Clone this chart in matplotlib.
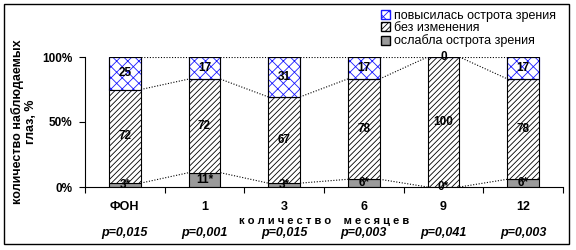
import numpy as np
import matplotlib.pyplot as plt
from matplotlib.patches import Patch, Rectangle

plt.rcParams['font.family'] = ['Liberation Sans', 'DejaVu Sans']
plt.rcParams['hatch.linewidth'] = 0.6

# данные
categories = ['ФОН', '1', '3', '6', '9', '12']
worse = [3, 11, 3, 6, 0, 6]          # ослабла острота зрения
same = [72, 72, 67, 78, 100, 78]     # без изменения
better = [25, 17, 31, 17, 0, 17]     # повысилась острота зрения
p_values = ['p=0,015', 'p=0,001', 'p=0,015', 'p=0,003', 'p=0,041', 'p=0,003']

w = np.array(worse, float)
s = np.array(same, float)
b = np.array(better, float)
tot = w + s + b
wp, sp, bp = w / tot * 100, s / tot * 100, b / tot * 100

W, H = 576, 250
fig = plt.figure(figsize=(5.76, 2.5), dpi=100)
ax = fig.add_axes([85/W, 1-187/H, (563-85)/W, (187-57)/H])

x = np.arange(len(categories))
bw = 0.4
ax.bar(x, wp, bw, color='#9a9a9a', edgecolor='black', linewidth=0.8)
ax.bar(x, sp, bw, bottom=wp, color='white', edgecolor='black', hatch='//////', linewidth=0.8)
ax.bar(x, bp, bw, bottom=wp + sp, color='white', edgecolor='#1a1aff', hatch='xxx', linewidth=0.8)
# черная рамка для верхнего сегмента
ax.bar(x, bp, bw, bottom=wp + sp, color='none', edgecolor='black', linewidth=0.8)

# линии ряда
for lvl in [wp, wp + sp, wp + sp + bp]:
    for i in range(len(x) - 1):
        ax.plot([x[i] + bw/2, x[i+1] - bw/2], [lvl[i], lvl[i+1]],
                ls=(0, (1, 1.5)), color='black', lw=0.8)

# подписи
for i in range(len(x)):
    ax.text(x[i], wp[i] / 2, f'{worse[i]}*', ha='center', va='center', fontsize=8.5, fontweight='bold')
    ax.text(x[i], wp[i] + sp[i] / 2, str(same[i]), ha='center', va='center', fontsize=8.5, fontweight='bold')
    ax.text(x[i], wp[i] + sp[i] + bp[i] / 2, str(better[i]), ha='center', va='center', fontsize=8.5, fontweight='bold')

ax.set_xlim(-0.5, len(x) - 0.5)
ax.set_ylim(0, 100)
ax.set_yticks([0, 50, 100])
ax.set_yticklabels(['0%', '50%', '100%'], fontsize=8.5, fontweight='bold')
ax.set_xticks(np.arange(-0.5, len(x) + 0.5, 1))
ax.set_xticklabels([])
ax.tick_params(axis='both', direction='out', length=4, width=0.8, pad=5)
ax.spines['top'].set_visible(False)
ax.spines['right'].set_visible(False)

for i, c in enumerate(categories):
    ax.text(x[i], -15, c, ha='center', va='center', fontsize=9, fontweight='bold')
    ax.text(x[i], -35.5, p_values[i], ha='center', va='center', fontsize=9,
            fontweight='bold', style='italic')
ax.text(2.5, -26, ' '.join('количество') + '    ' + ' '.join('месяцев'),
        ha='center', va='center', fontsize=8, fontweight='bold')

fig.text(24/W, 1-122/H, 'количество наблюдаемых\nглаз, %', rotation=90,
         ha='center', va='center', fontsize=9, fontweight='bold', linespacing=1.05)

handles = [
    Patch(facecolor='white', edgecolor='#1a1aff', hatch='xxx', label='повысилась острота зрения'),
    Patch(facecolor='white', edgecolor='black', hatch='//////', label='без изменения'),
    Patch(facecolor='#9a9a9a', edgecolor='black', label='ослабла острота зрения'),
]
fig.legend(handles=handles, loc='upper left', bbox_to_anchor=(381/W, 1-10/H),
           frameon=False, fontsize=9, handlelength=0.75, handleheight=0.75,
           handletextpad=0.3, labelspacing=0.02, borderpad=0.0, borderaxespad=0.0)

fig.patches.append(Rectangle((4/W, 6/H), 565/W, 240/H, transform=fig.transFigure,
                             fill=False, edgecolor='black', linewidth=1))

fig.savefig('out.png', dpi=100)
